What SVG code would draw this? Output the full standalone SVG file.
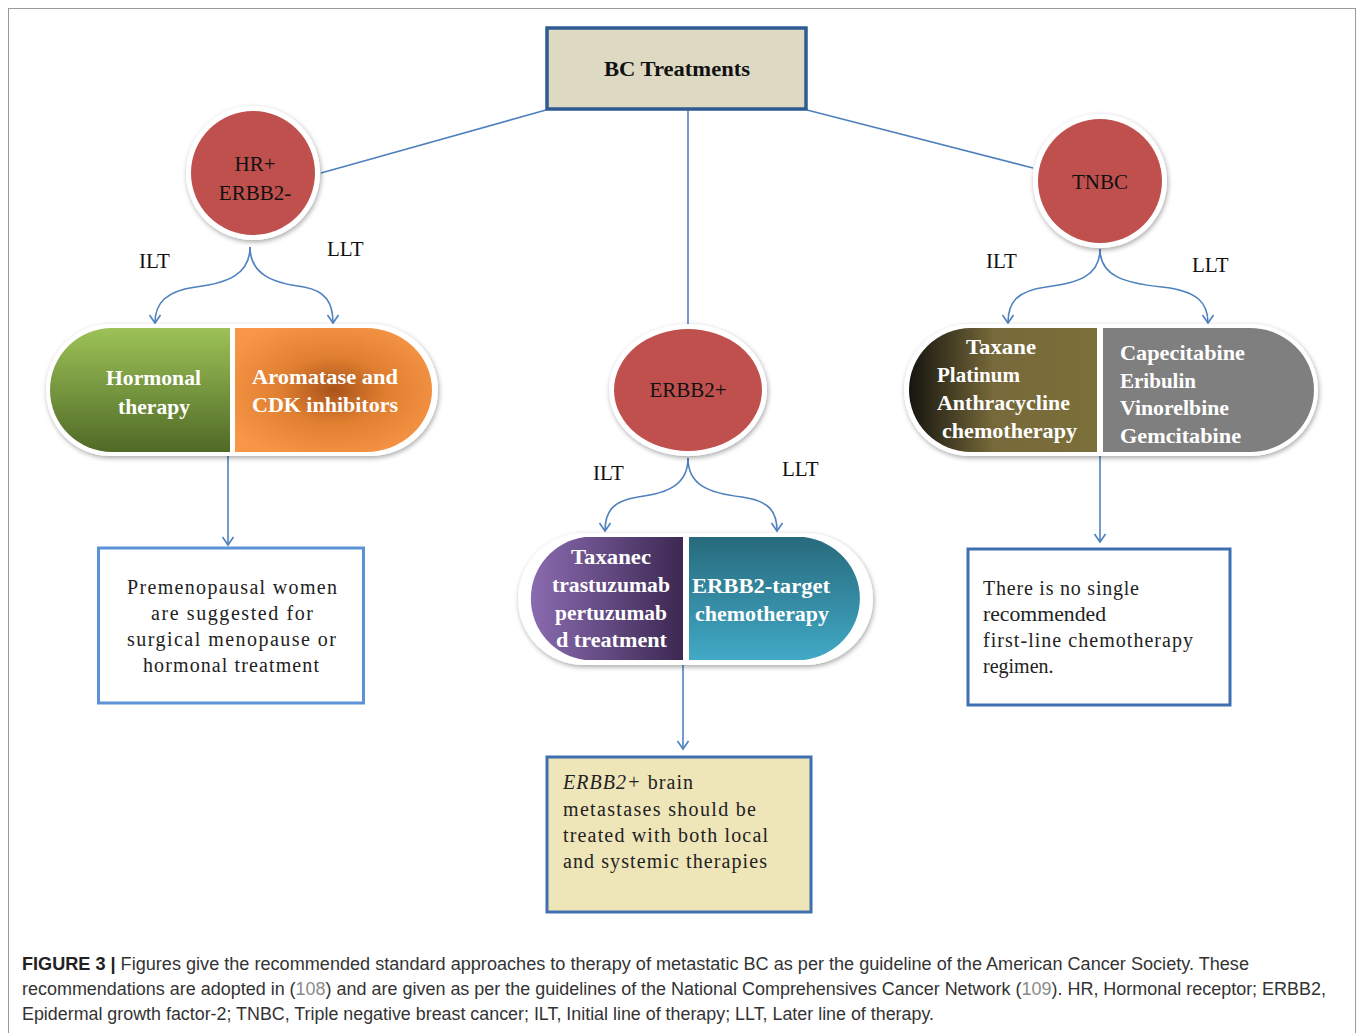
<svg xmlns="http://www.w3.org/2000/svg" width="1358" height="1033" viewBox="0 0 1358 1033">
<style>
.conn{fill:none;stroke:#4f81bd;stroke-width:1.6}
.lbl{font-family:"Liberation Serif",serif;font-size:21px;fill:#111}
.ct{font-family:"Liberation Serif",serif;font-size:21px;fill:#111;text-anchor:middle}
.pt{font-family:"Liberation Serif",serif;font-size:21px;font-weight:bold;fill:#fff}
.bt{font-family:"Liberation Serif",serif;font-size:20px;fill:#222}
.cap{font-family:"Liberation Sans Narrow","Liberation Sans",Arial,sans-serif;font-size:17.5px;fill:#333}
.ring{fill:#fff;filter:url(#sh)}
</style>
<defs>
<filter id="sh" x="-20%" y="-20%" width="140%" height="140%">
<feDropShadow dx="1" dy="2" stdDeviation="2.5" flood-color="#000" flood-opacity="0.35"/>
</filter>
<marker id="ah" markerWidth="16" markerHeight="16" refX="9" refY="6" orient="auto" markerUnits="userSpaceOnUse">
<path d="M1,0.5 L9,6 L1,11.5" fill="none" stroke="#4f81bd" stroke-width="1.6"/>
</marker>
<linearGradient id="gGreen" x1="0" y1="0" x2="0" y2="1">
<stop offset="0" stop-color="#9dc257"/><stop offset="1" stop-color="#4f6a26"/>
</linearGradient>
<radialGradient id="gOrange" cx="0.5" cy="0.5" r="0.6">
<stop offset="0" stop-color="#a9531a"/><stop offset="0.45" stop-color="#e07f30"/><stop offset="1" stop-color="#f79646"/>
</radialGradient>
<linearGradient id="gPurple" x1="0" y1="0" x2="1" y2="0">
<stop offset="0" stop-color="#8a6bb0"/><stop offset="1" stop-color="#3c2852"/>
</linearGradient>
<linearGradient id="gTeal" x1="0" y1="0" x2="0" y2="1">
<stop offset="0" stop-color="#276a7c"/><stop offset="1" stop-color="#41a9c6"/>
</linearGradient>
<linearGradient id="gOlive" x1="0" y1="0" x2="1" y2="0">
<stop offset="0" stop-color="#15140f"/><stop offset="0.45" stop-color="#77693a"/><stop offset="1" stop-color="#7b6f3a"/>
</linearGradient>
</defs>

<rect x="8.5" y="8.5" width="1347" height="1035" fill="#fff" stroke="#9a9a9a" stroke-width="1"/>

<g id="connectors">
<line class="conn" x1="546" y1="110" x2="321" y2="173"/>
<line class="conn" x1="807" y1="110" x2="1033" y2="168"/>
<line class="conn" x1="688" y1="110" x2="688" y2="326"/>
<path class="conn" d="M250,247 C250,274 228,283 196,287 C166,291 155,303 155,323" marker-end="url(#ah)"/>
<path class="conn" d="M250,247 C250,274 272,283 304,287 C326,291 333,303 333,323" marker-end="url(#ah)"/>
<path class="conn" d="M688,458 C688,485 668,493 638,497 C612,501 605,512 605,531" marker-end="url(#ah)"/>
<path class="conn" d="M688,458 C688,485 708,493 742,497 C770,501 777,512 777,531" marker-end="url(#ah)"/>
<path class="conn" d="M1100,249 C1100,276 1078,283 1046,287 C1016,291 1008,303 1008,323" marker-end="url(#ah)"/>
<path class="conn" d="M1100,249 C1100,276 1124,283 1162,287 C1198,291 1208,303 1208,323" marker-end="url(#ah)"/>
<line class="conn" x1="228" y1="452" x2="228" y2="545" marker-end="url(#ah)"/>
<line class="conn" x1="683" y1="660" x2="683" y2="749" marker-end="url(#ah)"/>
<line class="conn" x1="1100" y1="452" x2="1100" y2="542" marker-end="url(#ah)"/>
</g>

<g id="bc-treatments">
<rect x="547" y="28" width="259" height="81" fill="#ddd9c3" stroke="#2f5b92" stroke-width="3.5"/>
<text x="604" y="76" textLength="146" lengthAdjust="spacingAndGlyphs" style="font-family:'Liberation Serif',serif;font-size:21px;font-weight:bold;fill:#111">BC Treatments</text>
</g>

<g id="hr-pos">
<circle class="ring" cx="253" cy="173" r="67"/>
<circle cx="253" cy="173" r="62" fill="#c0504d"/>
<text class="ct" x="255" y="171">HR+</text>
<text class="ct" x="255" y="200">ERBB2-</text>
</g>

<g id="tnbc">
<circle class="ring" cx="1100" cy="181" r="67"/>
<circle cx="1100" cy="181" r="62" fill="#c0504d"/>
<text class="ct" x="1100" y="189">TNBC</text>
</g>

<g id="erbb2-pos">
<ellipse class="ring" cx="688" cy="390" rx="79" ry="66"/>
<ellipse cx="688" cy="390" rx="74" ry="61" fill="#c0504d"/>
<text class="ct" x="688" y="397">ERBB2+</text>
</g>

<g id="labels">
<text class="lbl" x="139" y="268">ILT</text>
<text class="lbl" x="327" y="256">LLT</text>
<text class="lbl" x="593" y="480">ILT</text>
<text class="lbl" x="782" y="476">LLT</text>
<text class="lbl" x="986" y="268">ILT</text>
<text class="lbl" x="1192" y="272">LLT</text>
</g>

<g id="pill-hr">
<path class="ring" d="M110,324 L370,324 A68,66 0 0 1 370,456 L110,456 A64,66 0 0 1 110,324 Z"/>
<path d="M230,328 L112,328 A62,62 0 0 0 112,452 L230,452 Z" fill="url(#gGreen)"/>
<path d="M235,328 L366,328 A66,62 0 0 1 366,452 L235,452 Z" fill="url(#gOrange)"/>
<text class="pt" x="106" y="385" textLength="95" lengthAdjust="spacingAndGlyphs">Hormonal</text>
<text class="pt" x="118" y="414" textLength="72" lengthAdjust="spacingAndGlyphs">therapy</text>
<text class="pt" x="252" y="384" textLength="146" lengthAdjust="spacingAndGlyphs">Aromatase and</text>
<text class="pt" x="252" y="412" textLength="146" lengthAdjust="spacingAndGlyphs">CDK inhibitors</text>
</g>

<g id="pill-erbb2">
<path class="ring" d="M584,533 L805,533 A68,66 0 0 1 805,665 L584,665 A66,66 0 0 1 584,533 Z"/>
<path d="M683,537 L585,537 A62,62 0 0 0 585,660 L683,660 Z" fill="url(#gPurple)"/>
<path d="M689,537 L804,537 A64,62 0 0 1 804,660 L689,660 Z" fill="url(#gTeal)"/>
<text class="pt" x="571" y="564" textLength="80" lengthAdjust="spacingAndGlyphs">Taxanec</text>
<text class="pt" x="552" y="592" textLength="118" lengthAdjust="spacingAndGlyphs">trastuzumab</text>
<text class="pt" x="555" y="620" textLength="112" lengthAdjust="spacingAndGlyphs">pertuzumab</text>
<text class="pt" x="556" y="647" textLength="111" lengthAdjust="spacingAndGlyphs">d treatment</text>
<text class="pt" x="692" y="593" textLength="138" lengthAdjust="spacingAndGlyphs">ERBB2-target</text>
<text class="pt" x="695" y="621" textLength="134" lengthAdjust="spacingAndGlyphs">chemotherapy</text>
</g>

<g id="pill-tnbc">
<path class="ring" d="M970,324 L1250,324 A68,66 0 0 1 1250,456 L970,456 A66,66 0 0 1 970,324 Z"/>
<path d="M1097,328 L971,328 A62,62 0 0 0 971,452 L1097,452 Z" fill="url(#gOlive)"/>
<path d="M1103,328 L1250,328 A64,62 0 0 1 1250,452 L1103,452 Z" fill="#7f7f7f"/>
<text class="pt" x="966" y="354" textLength="70" lengthAdjust="spacingAndGlyphs">Taxane</text>
<text class="pt" x="937" y="382" textLength="83" lengthAdjust="spacingAndGlyphs">Platinum</text>
<text class="pt" x="937" y="410" textLength="133" lengthAdjust="spacingAndGlyphs">Anthracycline</text>
<text class="pt" x="942" y="438" textLength="135" lengthAdjust="spacingAndGlyphs">chemotherapy</text>
<text class="pt" x="1120" y="360" textLength="125" lengthAdjust="spacingAndGlyphs">Capecitabine</text>
<text class="pt" x="1120" y="388" textLength="76" lengthAdjust="spacingAndGlyphs">Eribulin</text>
<text class="pt" x="1120" y="415" textLength="109" lengthAdjust="spacingAndGlyphs">Vinorelbine</text>
<text class="pt" x="1120" y="443" textLength="121" lengthAdjust="spacingAndGlyphs">Gemcitabine</text>
</g>

<g id="box-hr">
<rect x="98.5" y="548" width="265" height="155" fill="#fff" stroke="#5b93d6" stroke-width="3"/>
<text class="bt" x="127" y="594" textLength="210" lengthAdjust="spacing">Premenopausal women</text>
<text class="bt" x="151" y="620" textLength="162" lengthAdjust="spacing">are suggested for</text>
<text class="bt" x="127" y="646" textLength="209" lengthAdjust="spacing">surgical menopause or</text>
<text class="bt" x="143" y="672" textLength="176" lengthAdjust="spacing">hormonal treatment</text>
</g>

<g id="box-erbb2">
<rect x="547" y="757" width="264" height="155" fill="#eee5b9" stroke="#3f6fb1" stroke-width="3"/>
<text class="bt" x="563" y="789" textLength="130" lengthAdjust="spacing"><tspan font-style="italic">ERBB2+</tspan> brain</text>
<text class="bt" x="563" y="816" textLength="193" lengthAdjust="spacing">metastases should be</text>
<text class="bt" x="563" y="842" textLength="205" lengthAdjust="spacing">treated with both local</text>
<text class="bt" x="563" y="868" textLength="204" lengthAdjust="spacing">and systemic therapies</text>
</g>

<g id="box-tnbc">
<rect x="968" y="549" width="262" height="156" fill="#fff" stroke="#3f6fb1" stroke-width="3"/>
<text class="bt" x="983" y="595" textLength="156" lengthAdjust="spacing">There is no single</text>
<text class="bt" x="983" y="621" textLength="123" lengthAdjust="spacingAndGlyphs">recommended</text>
<text class="bt" x="983" y="647" textLength="210" lengthAdjust="spacing">first-line chemotherapy</text>
<text class="bt" x="983" y="673">regimen.</text>
</g>

<g id="caption">
<text class="cap" x="22" y="970" textLength="1227" lengthAdjust="spacingAndGlyphs"><tspan font-weight="bold" fill="#222">FIGURE 3 |</tspan> Figures give the recommended standard approaches to therapy of metastatic BC as per the guideline of the American Cancer Society. These</text>
<text class="cap" x="22" y="995" textLength="1304" lengthAdjust="spacingAndGlyphs">recommendations are adopted in (<tspan fill="#8a8a8a">108</tspan>) and are given as per the guidelines of the National Comprehensives Cancer Network (<tspan fill="#8a8a8a">109</tspan>). HR, Hormonal receptor; ERBB2,</text>
<text class="cap" x="22" y="1020" textLength="912" lengthAdjust="spacingAndGlyphs">Epidermal growth factor-2; TNBC, Triple negative breast cancer; ILT, Initial line of therapy; LLT, Later line of therapy.</text>
</g>
</svg>
